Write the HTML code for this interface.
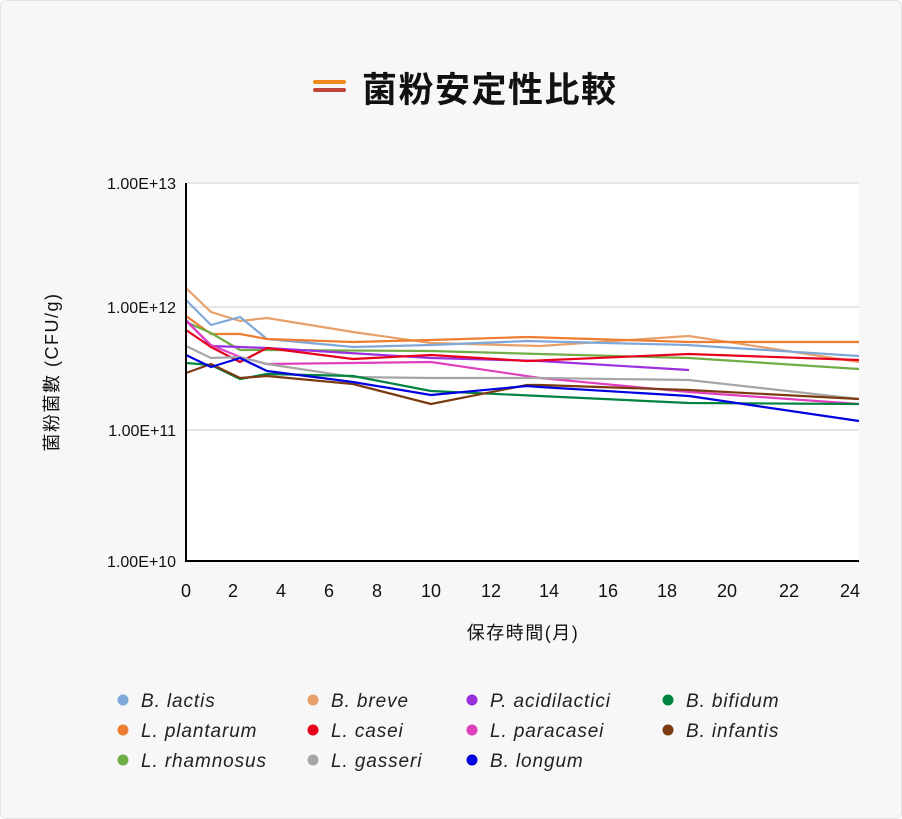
<!DOCTYPE html>
<html><head><meta charset="utf-8"><style>
body{margin:0;background:#fff;}
.card{position:absolute;left:0;top:0;width:900px;height:817px;background:#f7f7f7;border:1px solid #e4e4e4;border-radius:6px;font-family:"Liberation Sans","Noto Sans CJK JP",sans-serif;}
</style></head><body>
<div class="card"></div>
<svg width="902" height="819" style="position:absolute;left:0;top:0" font-family="Liberation Sans, Noto Sans CJK JP, sans-serif">
<rect x="313" y="80" width="33" height="4" rx="2" fill="#f08a1c"/>
<rect x="313" y="88" width="33" height="4" rx="2" fill="#c0443a"/>
<text x="362" y="102" font-size="35" font-weight="bold" letter-spacing="1.5" fill="#111">菌粉安定性比較</text>
<rect x="186" y="183" width="673" height="378" fill="#fff"/>
<g stroke="#dddddd" stroke-width="1.5">
<line x1="186" y1="183" x2="859" y2="183"/><line x1="186" y1="307" x2="859" y2="307"/><line x1="186" y1="430" x2="859" y2="430"/>
</g>
<g fill="none" stroke-width="2.2" stroke-linejoin="round">
<polyline stroke="#e8a06a" points="186,288 211,312 240,321 267,318 353,332 431,343 540,346 689,336 859,362"/>
<polyline stroke="#7fa8d8" points="186,300 211,325 240,317 267,339 353,347 431,345 527,341 687,345 859,356"/>
<polyline stroke="#ed7d31" points="186,316 211,334 240,334 267,339 353,342 431,340 527,337 689,342 859,342"/>
<polyline stroke="#70ad47" points="186,322 211,333 240,350 267,350 431,351 540,354 689,358 859,369"/>
<polyline stroke="#9b30e0" points="186,320 211,346 240,347 267,348 431,358 540,361 689,370"/>
<polyline stroke="#e8001c" points="186,330 211,347 240,362 267,348 353,359 431,355 527,361 689,354 859,360"/>
<polyline stroke="#e040c0" points="186,321 211,345 240,357 267,364 431,362 540,378 689,392 859,404"/>
<polyline stroke="#a6a6a6" points="186,346 211,358 240,357 267,364 353,377 431,378 540,378 689,380 859,399"/>
<polyline stroke="#00843f" points="186,363 211,365 240,379 267,374 353,376 431,391 540,396 689,403 859,404"/>
<polyline stroke="#7b3a10" points="186,373 211,364 240,378 267,376 353,384 431,404 527,385 540,385 689,390 859,399"/>
<polyline stroke="#0000e0" points="186,355 211,367 240,358 267,371 353,382 431,395 527,386 540,387 689,396 859,421"/>
</g>
<line x1="186" y1="183" x2="186" y2="562" stroke="#000" stroke-width="2"/>
<line x1="185" y1="561" x2="859" y2="561" stroke="#000" stroke-width="2"/>
<g font-size="16" fill="#111" text-anchor="end">
<text x="176" y="189">1.00E+13</text><text x="176" y="313">1.00E+12</text><text x="176" y="436">1.00E+11</text><text x="176" y="567">1.00E+10</text>
</g>
<g font-size="18" fill="#111" text-anchor="middle">
<text x="186" y="597">0</text><text x="233" y="597">2</text><text x="281" y="597">4</text><text x="329" y="597">6</text><text x="377" y="597">8</text><text x="431" y="597">10</text><text x="491" y="597">12</text><text x="549" y="597">14</text><text x="608" y="597">16</text><text x="667" y="597">18</text><text x="727" y="597">20</text><text x="789" y="597">22</text><text x="850" y="597">24</text>
</g>
<text x="523" y="639" font-size="18" letter-spacing="1.5" text-anchor="middle" fill="#111">保存時間(月)</text>
<text transform="translate(58,372) rotate(-90)" font-size="18" letter-spacing="1.5" text-anchor="middle" fill="#111">菌粉菌數 (CFU/g)</text>
<g font-size="19" font-style="italic" fill="#222" letter-spacing="0.9">
<circle cx="123" cy="700" r="5.5" fill="#7fa8d8"/><text x="141" y="707">B. lactis</text>
<circle cx="313" cy="700" r="5.5" fill="#e8a06a"/><text x="331" y="707">B. breve</text>
<circle cx="472" cy="700" r="5.5" fill="#9b30e0"/><text x="490" y="707">P. acidilactici</text>
<circle cx="668" cy="700" r="5.5" fill="#00843f"/><text x="686" y="707">B. bifidum</text>
<circle cx="123" cy="730" r="5.5" fill="#ed7d31"/><text x="141" y="737">L. plantarum</text>
<circle cx="313" cy="730" r="5.5" fill="#e8001c"/><text x="331" y="737">L. casei</text>
<circle cx="472" cy="730" r="5.5" fill="#e040c0"/><text x="490" y="737">L. paracasei</text>
<circle cx="668" cy="730" r="5.5" fill="#7b3a10"/><text x="686" y="737">B. infantis</text>
<circle cx="123" cy="760" r="5.5" fill="#70ad47"/><text x="141" y="767">L. rhamnosus</text>
<circle cx="313" cy="760" r="5.5" fill="#a6a6a6"/><text x="331" y="767">L. gasseri</text>
<circle cx="472" cy="760" r="5.5" fill="#0000e0"/><text x="490" y="767">B. longum</text>
</g>
</svg>
</body></html>
